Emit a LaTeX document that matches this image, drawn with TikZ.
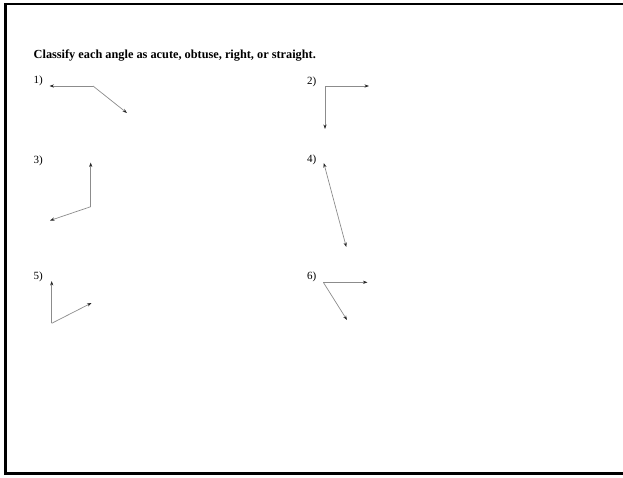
\documentclass[tikz,border=0pt]{standalone}
\usepackage{fontspec}
\setmainfont{Liberation Serif}
\usetikzlibrary{arrows.meta}
\tikzstyle{head} = [anchor=west, inner sep=0pt, font=\bfseries\fontsize{12.3}{14}\selectfont]
\tikzstyle{num} = [anchor=west, inner sep=0pt, font=\fontsize{11}{13}\selectfont]
\tikzstyle{ray} = [draw=black!45, line width=0.7pt, -{Stealth[length=4.5pt,width=3.2pt,color=black!85]}]

\begin{document}
\begin{tikzpicture}[x=1pt,y=-1pt]
  \useasboundingbox (0,0) rectangle (623,477);
  \draw [line width=2.2pt] (630,4) -- (5.5,4) -- (5.5,473.5) -- (630,473.5);
  \node (title) at (33.5,56) [head] {Classify each angle as acute, obtuse, right, or straight.};
  % labels
  \node (n1) at (33.5,81) [num] {1)};
  \node (n2) at (307,82) [num] {2)};
  \node (n3) at (33.5,161) [num] {3)};
  \node (n4) at (307,160) [num] {4)};
  \node (n5) at (33.5,277) [num] {5)};
  \node (n6) at (307,277) [num] {6)};
  % angle 1
  \coordinate (v1) at (93,86);
  \coordinate (a1) at (49.5,86);
  \coordinate (b1) at (127,113);
  \draw [ray] (v1) to (a1);
  \draw [ray] (v1) to (b1);
  % angle 2
  \coordinate (v2) at (325,86);
  \coordinate (a2) at (369,86);
  \coordinate (b2) at (325,129);
  \draw [ray] (v2) to (a2);
  \draw [ray] (v2) to (b2);
  % angle 3
  \coordinate (v3) at (90.7,206.7);
  \coordinate (a3) at (90.7,162.5);
  \coordinate (b3) at (50,220.5);
  \draw [ray] (v3) to (a3);
  \draw [ray] (v3) to (b3);
  % angle 4
  \coordinate (v4) at (335,205);
  \coordinate (a4) at (323.8,163);
  \coordinate (b4) at (346.3,247);
  \draw [ray] (v4) to (a4);
  \draw [ray] (v4) to (b4);
  % angle 5
  \coordinate (v5) at (51.7,323.3);
  \coordinate (a5) at (51.7,281);
  \coordinate (b5) at (91.5,303);
  \draw [ray] (v5) to (a5);
  \draw [ray] (v5) to (b5);
  % angle 6
  \coordinate (v6) at (323.3,282.3);
  \coordinate (a6) at (367.5,282.3);
  \coordinate (b6) at (347,320);
  \draw [ray] (v6) to (a6);
  \draw [ray] (v6) to (b6);
\end{tikzpicture}
\end{document}
